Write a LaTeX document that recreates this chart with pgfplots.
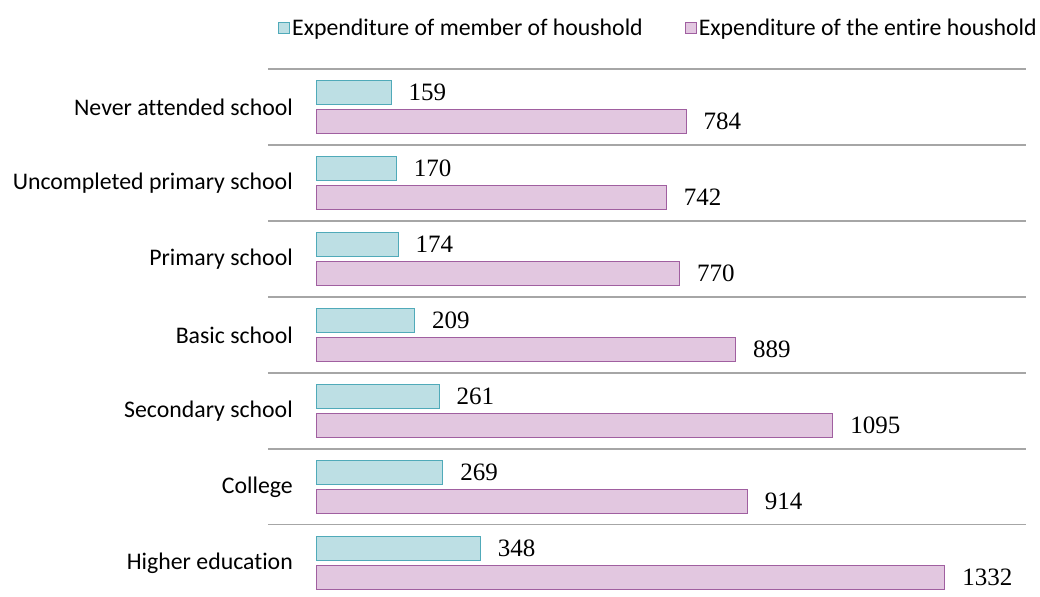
\documentclass[border=0pt]{standalone}
\usepackage{pgfplots}
\pgfplotsset{compat=1.18}
\usepackage{fontspec}
\setmainfont[Ligatures=NoCommon]{Carlito}
\newfontfamily\valfont{Liberation Serif}
\definecolor{cyanfill}{RGB}{189,223,228}
\definecolor{cyanedge}{RGB}{80,170,185}
\definecolor{pinkfill}{RGB}{226,199,224}
\definecolor{pinkedge}{RGB}{160,95,160}
\definecolor{gridgray}{RGB}{166,166,166}
\begin{document}
\begin{tikzpicture}
\begin{axis}[
  width=758pt, height=528pt, scale only axis,
  xmin=-101.7, xmax=1504,
  ymin=-0.5, ymax=6.45,
  y dir=reverse,
  xbar, bar width=0.31,
  axis line style={draw=none},
  xtick=\empty,
  ytick={0,1,2,3,4,5,6},
  yticklabels={Never attended school,Uncompleted primary school,Primary school,Basic school,Secondary school,College,Higher education},
  major tick length=0pt,
  yticklabel style={inner sep=0pt, xshift=25pt, font=\fontsize{23.8}{28}\selectfont},
  extra y ticks={-0.5,0.5,1.5,2.5,3.5,4.5,5.5},
  extra y tick labels={},
  extra y tick style={grid=major, major grid style={draw=gridgray, line width=1.3pt}},
  nodes near coords={\pgfmathprintnumber[assume math mode=true, 1000 sep={}]{\pgfplotspointmeta}},
  nodes near coords style={anchor=west, inner sep=0pt, xshift=17pt, font=\valfont\fontsize{25}{28}\selectfont, text=black},
  legend columns=2,
  legend style={draw=none, fill=none, at={(1,1)}, anchor=south east, xshift=13pt, yshift=30pt,
    font=\fontsize{23.8}{28}\selectfont, inner sep=0pt,
    /tikz/every even column/.append style={column sep=40pt}},
  legend image code/.code={\draw[#1, line width=1pt] (0pt,-5.5pt) rectangle (11pt,5.5pt);},
  legend cell align=left,
]
\addplot[fill=cyanfill, draw=cyanedge, line width=1pt, bar shift=-0.19] coordinates {(159,0) (170,1) (174,2) (209,3) (261,4) (269,5) (348,6)};
\addlegendentry{Expenditure of member of houshold}
\addplot[fill=pinkfill, draw=pinkedge, line width=1pt, bar shift=0.19] coordinates {(784,0) (742,1) (770,2) (889,3) (1095,4) (914,5) (1332,6)};
\addlegendentry{Expenditure of the entire houshold}
\end{axis}
\pgfresetboundingbox
\path ([xshift=-268pt, yshift=0pt]current axis.south west) rectangle ([xshift=14pt, yshift=69pt]current axis.north east);
\end{tikzpicture}
\end{document}
